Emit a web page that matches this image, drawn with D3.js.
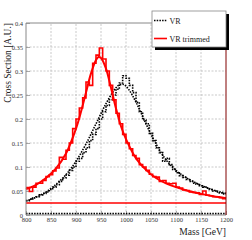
<!DOCTYPE html>
<html>
<head>
<meta charset="utf-8">
<script src="https://cdn.jsdelivr.net/npm/d3@7"></script>
<style>
  body { margin: 0; background: #fff; }
  text { font-family: "Liberation Serif", "DejaVu Serif", serif; }
</style>
</head>
<body>
<script>
const width = 252, height = 240;
const margin = {top: 23, right: 26, bottom: 25, left: 26};

// histogram contents, 60 equal bins from 800 to 1200 GeV
const massRange = [800, 1200];
const vrHist = [0.030, 0.033, 0.036, 0.038, 0.042, 0.045, 0.048, 0.053, 0.058, 0.063,
  0.070, 0.077, 0.083, 0.093, 0.100, 0.112, 0.118, 0.130, 0.140, 0.155,
  0.168, 0.180, 0.200, 0.215, 0.228, 0.240, 0.250, 0.262, 0.275, 0.290,
  0.285, 0.270, 0.255, 0.235, 0.215, 0.198, 0.190, 0.170, 0.155, 0.140,
  0.130, 0.112, 0.118, 0.105, 0.095, 0.088, 0.082, 0.078, 0.074, 0.070,
  0.066, 0.064, 0.061, 0.058, 0.056, 0.053, 0.050, 0.048, 0.046, 0.044];
const trimmedHist = [0.057, 0.049, 0.058, 0.066, 0.066, 0.072, 0.080, 0.084, 0.092, 0.098,
  0.120, 0.116, 0.135, 0.150, 0.180, 0.200, 0.223, 0.244, 0.277, 0.270,
  0.316, 0.333, 0.348, 0.325, 0.300, 0.270, 0.240, 0.212, 0.190, 0.168,
  0.150, 0.138, 0.124, 0.118, 0.105, 0.100, 0.093, 0.085, 0.080, 0.079,
  0.070, 0.072, 0.066, 0.065, 0.066, 0.058, 0.056, 0.052, 0.051, 0.048,
  0.047, 0.046, 0.043, 0.050, 0.041, 0.040, 0.038, 0.038, 0.036, 0.034];

// fitted curves [mass, value]
const vrFit = [[800, 0.029], [820, 0.037], [840, 0.048], [860, 0.064], [880, 0.084],
  [900, 0.112], [920, 0.148], [940, 0.190], [960, 0.232], [975, 0.258], [985, 0.270],
  [995, 0.272], [1005, 0.262], [1020, 0.235], [1040, 0.190], [1060, 0.148],
  [1080, 0.115], [1100, 0.093], [1125, 0.075], [1150, 0.062], [1175, 0.052], [1200, 0.045]];
const trimmedFit = [[800, 0.054], [820, 0.063], [840, 0.077], [860, 0.097], [880, 0.128],
  [900, 0.180], [910, 0.215], [920, 0.255], [930, 0.295], [940, 0.323], [945, 0.329],
  [950, 0.327], [960, 0.305], [970, 0.265], [980, 0.222], [990, 0.185], [1000, 0.158],
  [1020, 0.118], [1040, 0.094], [1060, 0.077], [1080, 0.066], [1100, 0.058],
  [1125, 0.050], [1150, 0.044], [1175, 0.039], [1200, 0.035]];

// flat background levels
const vrFlat = 0.003;
const trimmedFlat = 0.025;

const xTicks = [800, 850, 900, 950, 1000, 1050, 1100, 1150, 1200];
const yTicks = [0, 0.05, 0.1, 0.15, 0.2, 0.25, 0.3, 0.35, 0.4];
const legendLabels = ["VR", "VR trimmed"];

const svg = d3.select("body").append("svg")
  .attr("width", width)
  .attr("height", height);

const x = d3.scaleLinear().domain(massRange).range([margin.left, width - margin.right]);
const y = d3.scaleLinear().domain([0, 0.4]).range([height - margin.bottom, margin.top]);

// grid
svg.append("g").selectAll("line")
  .data(xTicks.slice(1, -1))
  .enter().append("line")
  .attr("x1", d => x(d)).attr("x2", d => x(d))
  .attr("y1", y(0)).attr("y2", y(0.4))
  .style("stroke", "#bbb").style("stroke-dasharray", "2,1.5").style("stroke-width", 0.8);
svg.append("g").selectAll("line")
  .data(yTicks.slice(1, -1))
  .enter().append("line")
  .attr("x1", x(800)).attr("x2", x(1200))
  .attr("y1", d => y(d)).attr("y2", d => y(d))
  .style("stroke", "#bbb").style("stroke-dasharray", "2,1.5").style("stroke-width", 0.8);

// axes with ROOT-like inner ticks
const xAxis = svg.append("g").attr("transform", `translate(0,${y(0)})`)
  .call(d3.axisBottom(x).tickValues(d3.range(800, 1201, 10)).tickSize(-2).tickFormat(""));
xAxis.call(d3.axisBottom(x).tickValues(xTicks).tickSize(-4).tickPadding(2).tickFormat(d3.format("d")));
const yAxis = svg.append("g").attr("transform", `translate(${x(800)},0)`)
  .call(d3.axisLeft(y).tickValues(d3.range(0, 0.401, 0.01)).tickSize(-2).tickFormat(""));
yAxis.call(d3.axisLeft(y).tickValues(yTicks).tickSize(-4).tickPadding(3).tickFormat(d => d === 0 ? "0" : d3.format("~g")(d)));
svg.selectAll(".domain").remove();
svg.selectAll(".tick line").style("stroke", "#888").style("stroke-width", 0.7);
svg.selectAll(".tick text").style("font-size", "6.5px").style("fill", "#333")
  .style("font-family", "Liberation Serif, serif");

// step path for a histogram
const binW = (massRange[1] - massRange[0]) / trimmedHist.length;
function stepPoints(vals) {
  const pts = [];
  vals.forEach((v, i) => {
    pts.push([massRange[0] + i * binW, v]);
    pts.push([massRange[0] + (i + 1) * binW, v]);
  });
  return pts;
}
const line = d3.line().x(d => x(d[0])).y(d => y(d[1]));
const smooth = d3.line().x(d => x(d[0])).y(d => y(d[1])).curve(d3.curveCatmullRom);

// flat lines
svg.append("path").datum([[800, vrFlat], [1200, vrFlat]]).attr("d", line)
  .style("fill", "none").style("stroke", "#000").style("stroke-width", 1.8).style("stroke-dasharray", "1.5,1.2");
svg.append("path").datum([[800, trimmedFlat], [1200, trimmedFlat]]).attr("d", line)
  .style("fill", "none").style("stroke", "red").style("stroke-width", 1.5);

// VR
svg.append("path").datum(stepPoints(vrHist)).attr("d", line)
  .style("fill", "none").style("stroke", "#000").style("stroke-width", 1.6).style("stroke-dasharray", "1.5,1.2");
svg.append("path").datum(vrFit).attr("d", smooth)
  .style("fill", "none").style("stroke", "#000").style("stroke-width", 1.6).style("stroke-dasharray", "1.5,1.2");

// VR trimmed
svg.append("path").datum(stepPoints(trimmedHist)).attr("d", line)
  .style("fill", "none").style("stroke", "red").style("stroke-width", 1.6);
svg.append("path").datum(trimmedFit).attr("d", smooth)
  .style("fill", "none").style("stroke", "red").style("stroke-width", 2);

// frame
svg.append("path")
  .attr("d", `M${x(1200)},${y(0.4)} H${x(800)} V${y(0)} H${x(1200)}`)
  .style("fill", "none").style("stroke", "#888").style("stroke-width", 1);
svg.append("line")
  .attr("x1", x(1200)).attr("x2", x(1200)).attr("y1", y(0.4)).attr("y2", y(0))
  .style("stroke", "#800000").style("stroke-width", 1);

// axis titles
svg.append("text")
  .attr("transform", `translate(11,${margin.top}) rotate(-90)`)
  .attr("text-anchor", "end")
  .style("font-size", "9.5px").style("fill", "#222")
  .text("Cross Section [A.U.]");
svg.append("text")
  .attr("x", x(1200)).attr("y", 235)
  .attr("text-anchor", "end")
  .style("font-size", "9.5px").style("fill", "#222")
  .text("Mass [GeV]");

// legend
const lg = svg.append("g");
lg.append("rect").attr("x", 155).attr("y", 14).attr("width", 74).attr("height", 36).style("fill", "#000");
lg.append("rect").attr("x", 152).attr("y", 11).attr("width", 74).attr("height", 36)
  .style("fill", "#fff").style("stroke", "#888").style("stroke-width", 0.8);
lg.append("line").attr("x1", 154).attr("x2", 167).attr("y1", 20.5).attr("y2", 20.5)
  .style("stroke", "#000").style("stroke-width", 1.6).style("stroke-dasharray", "1.5,1.2");
lg.append("line").attr("x1", 154).attr("x2", 167).attr("y1", 38.5).attr("y2", 38.5)
  .style("stroke", "red").style("stroke-width", 1.6);
lg.selectAll("text.lab").data(legendLabels).enter().append("text")
  .attr("class", "lab")
  .attr("x", 169.5).attr("y", (d, i) => 23.5 + i * 18)
  .style("font-size", "8px").style("fill", "#222")
  .text(d => d);
</script>
</body>
</html>
